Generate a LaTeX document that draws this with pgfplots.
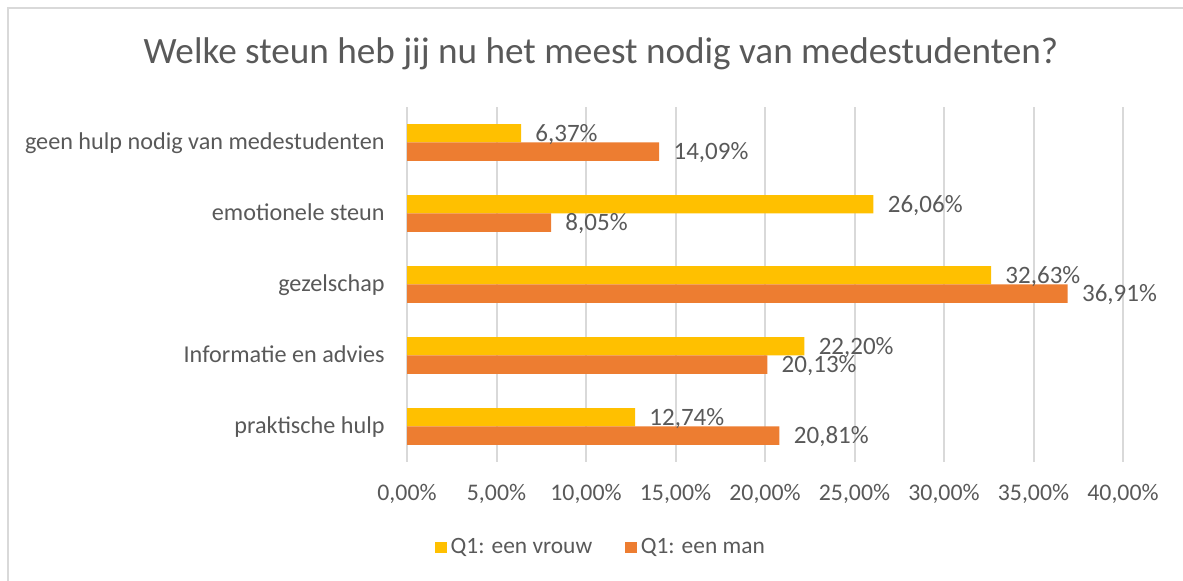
\documentclass[border=0pt]{standalone}
\usepackage{fontspec}
\setmainfont{Carlito}
\usepackage{pgfplots}
\pgfplotsset{compat=1.18}

\definecolor{txt}{HTML}{595959}
\definecolor{gridc}{HTML}{D9D9D9}
\definecolor{vrouw}{HTML}{FFC000}
\definecolor{man}{HTML}{ED7D31}

\begin{document}
\begin{tikzpicture}
% 1 px of the reference = 0.5pt
\useasboundingbox (0,0) rectangle (591.5pt,290.5pt);
\draw[gridc, line width=1pt] (4pt,0) -- (4pt,286.5pt) -- (591.5pt,286.5pt);
\node[txt, font=\fontsize{18.6}{21}\selectfont, anchor=base] at (300.5pt,258.5pt)
  {Welke steun heb jij nu het meest nodig van medestudenten?};

\begin{axis}[at={(203.5pt,59.5pt)}, anchor=south west,
  scale only axis, width=358pt, height=177.5pt,
  font=\fontsize{11.9}{14}\selectfont,
  /pgf/number format/assume math mode=true,
  axis line style={draw=none}, major tick length=0pt,
  xmin=0, xmax=40, ymin=-0.5, ymax=4.5,
  xtick={0,5,...,40}, xmajorgrids, grid style={gridc, line width=1pt},
  xticklabels={{0,00\%},{5,00\%},{10,00\%},{15,00\%},{20,00\%},{25,00\%},{30,00\%},{35,00\%},{40,00\%}},
  xticklabel style={txt, anchor=base, inner sep=0pt, yshift=-19.25pt},
  ytick={0,...,4},
  yticklabels={praktische hulp, Informatie en advies, gezelschap, emotionele steun, geen hulp nodig van medestudenten},
  yticklabel style={txt, font=\fontsize{12.1}{14}\selectfont, anchor=base east, inner sep=0pt, xshift=-11pt, yshift=-3.75pt},
  point meta=x,
  nodes near coords={\pgfmathprintnumber[fixed, precision=2, zerofill, use comma]{\pgfplotspointmeta}\%},
  legend columns=2,
  legend style={draw=none, fill=none, at={(0.2723,-0.2408)}, anchor=center,
    font=\fontsize{11.7}{14}\selectfont, text=txt,
    /tikz/every even column/.append style={column sep=14.5pt}},
]
\addplot[xbar, bar width=0.26, bar shift=0.13, fill=vrouw, draw=none,
  every node near coord/.append style={txt, font=\fontsize{12.5}{14}\selectfont, anchor=base west, inner sep=0pt, xshift=7pt, yshift=0.5pt},
  legend image code/.code={\fill[vrouw] (0pt,-2.9pt) rectangle (5.8pt,2.9pt);}]
  coordinates {(12.74,0) (22.20,1) (32.63,2) (26.06,3) (6.37,4)};
\addlegendentry{Q1: een vrouw}
\addplot[xbar, bar width=0.26, bar shift=-0.13, fill=man, draw=none,
  every node near coord/.append style={txt, font=\fontsize{12.5}{14}\selectfont, anchor=base west, inner sep=0pt, xshift=7pt, yshift=-8.7pt},
  legend image code/.code={\fill[man] (0pt,-2.9pt) rectangle (5.8pt,2.9pt);}]
  coordinates {(20.81,0) (20.13,1) (36.91,2) (8.05,3) (14.09,4)};
\addlegendentry{Q1: een man}
\end{axis}
\end{tikzpicture}
\end{document}
